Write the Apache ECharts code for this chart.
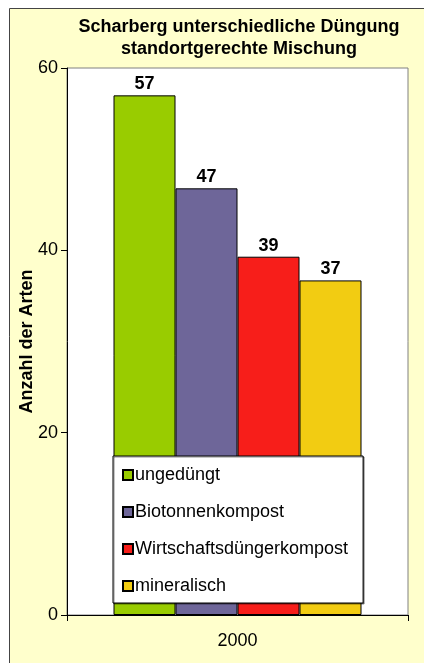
<!DOCTYPE html>
<html>
<head>
<meta charset="utf-8">
<script src="https://cdn.jsdelivr.net/npm/echarts@6/dist/echarts.min.js"></script>
<style>
html,body{margin:0;padding:0;background:#fff;}
#chart{width:424px;height:663px;}
</style>
</head>
<body>
<div id="chart"></div>
<script>
const titleLines = ['Scharberg unterschiedliche Düngung', 'standortgerechte Mischung'];
const categories = ['2000'];
const seriesNames = ['ungedüngt', 'Biotonnenkompost', 'Wirtschaftsdüngerkompost', 'mineralisch'];
const seriesValues = [57, 46.8, 39.3, 36.7];
const seriesColors = ['#99CC00', '#6E6699', '#F71E1A', '#F2CC12'];
const yTicks = [0, 20, 40, 60];
const yAxisTitle = 'Anzahl der Arten';

const FONT = '"Liberation Sans", Arial, sans-serif';
const chart = echarts.init(document.getElementById('chart'), null, {renderer: 'canvas'});

const series = seriesNames.map((name, i) => ({
  name: name,
  type: 'bar',
  data: [seriesValues[i]],
  barWidth: 62,
  barGap: '0%',
  itemStyle: {color: seriesColors[i], borderColor: '#000', borderWidth: 1},
  label: {
    show: true, position: 'top', distance: 2,
    fontFamily: FONT, fontSize: 18, fontWeight: 'bold', color: '#000',
    formatter: p => Math.round(p.value)
  },
  z: 2
}));

chart.setOption({
  animation: false,
  backgroundColor: '#fff',
  graphic: [{
    type: 'rect', z: -10, silent: true,
    shape: {x: 9.5, y: 8.5, width: 420, height: 660},
    style: {fill: '#FFFFCC', stroke: '#444', lineWidth: 1}
  }],
  title: {
    text: titleLines.join('\n'),
    left: 234, top: 11, textAlign: 'center',
    textStyle: {fontFamily: FONT, fontSize: 18, fontWeight: 'bold', color: '#000', lineHeight: 22}
  },
  grid: {
    left: 67, right: 16, top: 68, bottom: 48,
    show: true, backgroundColor: '#fff', borderColor: '#808080', borderWidth: 1
  },
  legend: {
    orient: 'vertical', left: 113, top: 456,
    data: seriesNames,
    icon: 'rect', itemWidth: 10, itemHeight: 10, itemGap: 17,
    padding: [9, 15, 7, 9],
    backgroundColor: '#fff', borderColor: '#000', borderWidth: 1,
    shadowColor: 'rgba(0,0,0,0.45)', shadowBlur: 0, shadowOffsetX: 1, shadowOffsetY: 1,
    textStyle: {fontFamily: FONT, fontSize: 18, color: '#000', lineHeight: 20, padding: [0, 0, 0, -3]},
    z: 10
  },
  xAxis: {
    type: 'category', data: categories,
    axisLine: {lineStyle: {color: '#000', width: 1}},
    axisTick: {show: true, length: 6, lineStyle: {color: '#000'}},
    axisLabel: {fontFamily: FONT, fontSize: 18, color: '#000', margin: 17}
  },
  yAxis: {
    type: 'value', min: yTicks[0], max: yTicks[yTicks.length - 1], interval: 20,
    name: yAxisTitle, nameLocation: 'middle', nameGap: 31, nameMoveOverlap: false,
    nameTextStyle: {fontFamily: FONT, fontSize: 18, fontWeight: 'bold', color: '#000'},
    axisLine: {show: true, lineStyle: {color: '#000', width: 1}},
    axisTick: {show: true, length: 6, lineStyle: {color: '#000'}},
    axisLabel: {fontFamily: FONT, fontSize: 18, color: '#000', margin: 9},
    splitLine: {show: false}
  },
  series: series
});
</script>
</body>
</html>
